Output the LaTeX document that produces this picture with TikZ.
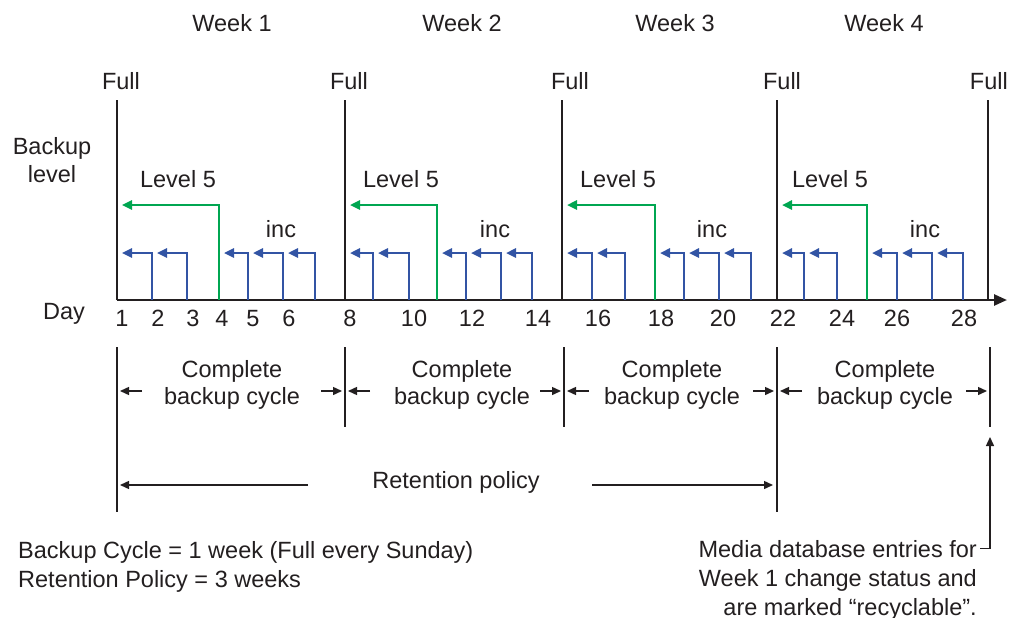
\documentclass[tikz,border=0pt]{standalone}
\usepackage{fontspec}
\setmainfont{Liberation Sans}
\usetikzlibrary{arrows.meta}
\definecolor{lvgreen}{RGB}{0,166,81}
\definecolor{incblue}{RGB}{50,84,164}
\definecolor{ink}{RGB}{35,31,32}
\begin{document}
\begin{tikzpicture}[x=1pt,y=-1pt,
  txt/.style={inner sep=0pt, anchor=base, text=ink, font=\fontsize{23.5}{28}\selectfont},
  fullline/.style={draw=ink, line width=2.5pt},
  axisline/.style={draw=ink, line width=2.5pt, -{Triangle[length=13pt,width=11pt]}},
  incarrow/.style={draw=incblue, line width=2.4pt, -{Triangle[length=10pt,width=9pt]}},
  lvarrow/.style={draw=lvgreen, line width=2.4pt, -{Triangle[length=10pt,width=9pt]}},
  cycleline/.style={draw=ink, line width=1.3pt},
  dimarrow/.style={draw=ink, line width=1.4pt, -{Triangle[length=9pt,width=8pt]}}
]
\useasboundingbox (0,0) rectangle (1009,618);

% day positions on the axis
\foreach \n/\x in {1/117,2/152,3/187,4/219,5/248,6/283,7/315,
                   8/345,9/373,10/409,11/437,12/466,13/501,14/532,
                   15/562,16/592,17/625,18/655,19/684,20/719,21/751,
                   22/777,23/804,24/837,25/867,26/897,27/932,28/963,29/988}
  \coordinate (d\n) at (\x,300);
\coordinate (axend) at (1007,300);

% full backup lines
\foreach \n in {1,8,15,22,29}
  \draw[fullline] (d\n) -- ++(0,-200);
% axis
\draw[axisline, line cap=square] (d1) -- (axend);

% incremental arrows
\foreach \n in {2,3,5,6,7,9,10,12,13,14,16,17,19,20,21,23,24,26,27,28}{
  \pgfmathtruncatemacro{\m}{\n-1}
  \draw[incarrow] (d\n) |- ([shift={(5,-47)}]d\m);
}
% level 5 arrows
\foreach \n/\m in {4/1,11/8,18/15,25/22}
  \draw[lvarrow] (d\n) |- ([shift={(5,-95)}]d\m);

% week titles
\node[txt] (w1) at (232,32) {Week 1};
\node[txt] (w2) at (462,32) {Week 2};
\node[txt] (w3) at (675,32) {Week 3};
\node[txt] (w4) at (884,32) {Week 4};

% Full labels
\node[txt] (f1) at (121,89) {Full};
\node[txt] (f2) at (349,89) {Full};
\node[txt] (f3) at (570,89) {Full};
\node[txt] (f4) at (782,89) {Full};
\node[txt, anchor=base east] (f5) at (1008,89) {Full};

% axis titles
\node[txt] (bl1) at (52,154) {Backup};
\node[txt] (bl2) at (52,182) {level};
\node[txt] (day) at (64,319) {Day};

% Level 5 / inc labels
\foreach \i/\x in {1/178,2/401,3/618,4/830}
  \node[txt] (lv\i) at (\x,187) {Level 5};
\foreach \i/\x in {1/281,2/495,3/712,4/925}
  \node[txt] (inc\i) at (\x,237) {inc};

% day numbers
\foreach \n/\x in {1/122,2/158,3/193,4/222,5/253,6/289,8/350,10/414,12/472,14/538,
                   16/598,18/661,20/723,22/783,24/842,26/897,28/964}
  \node[txt] (lab\n) at (\x,326) {\n};

% cycle boundaries
\foreach \i/\x in {0/117,1/345,2/564,3/777,4/990}
  \coordinate (c\i) at (\x,347);
\foreach \i in {1,2,4}
  \draw[cycleline] (c\i) -- ++(0,80);
\foreach \i in {0,3}
  \draw[cycleline] (c\i) -- ++(0,165);

% complete backup cycle labels and arrows
\foreach \i/\j/\x in {0/1/232,1/2/462,2/3/672,3/4/885}{
  \node[txt] (cc\i) at (\x,377) {Complete};
  \node[txt] (bc\i) at (\x,404) {backup cycle};
  \draw[dimarrow] ([shift={(25,44)}]c\i) -- ([shift={(3,44)}]c\i);
  \draw[dimarrow] ([shift={(-24,44)}]c\j) -- ([shift={(-3,44)}]c\j);
}

% retention policy
\node[txt] (ret) at (456,488) {Retention policy};
\coordinate (rl) at (308,485);
\coordinate (rr) at (592,485);
\draw[dimarrow] (rl) -- ([shift={(3,138)}]c0);
\draw[dimarrow] (rr) -- ([shift={(-4,138)}]c3);

% notes
\node[txt, anchor=base west] (n1) at (18,558) {Backup Cycle = 1 week (Full every Sunday)};
\node[txt, anchor=base west] (n2) at (18,587) {Retention Policy = 3 weeks};

\node[txt, anchor=base east] (m1) at (977,557) {Media database entries for};
\node[txt, anchor=base east] (m2) at (977,586) {Week 1 change status and};
\node[txt, anchor=base east] (m3) at (977,615) {are marked “recyclable”.};
\coordinate (rtop) at (990,437);
\draw[dimarrow] ([xshift=3pt]m1.east) -| (rtop);
\end{tikzpicture}
\end{document}
